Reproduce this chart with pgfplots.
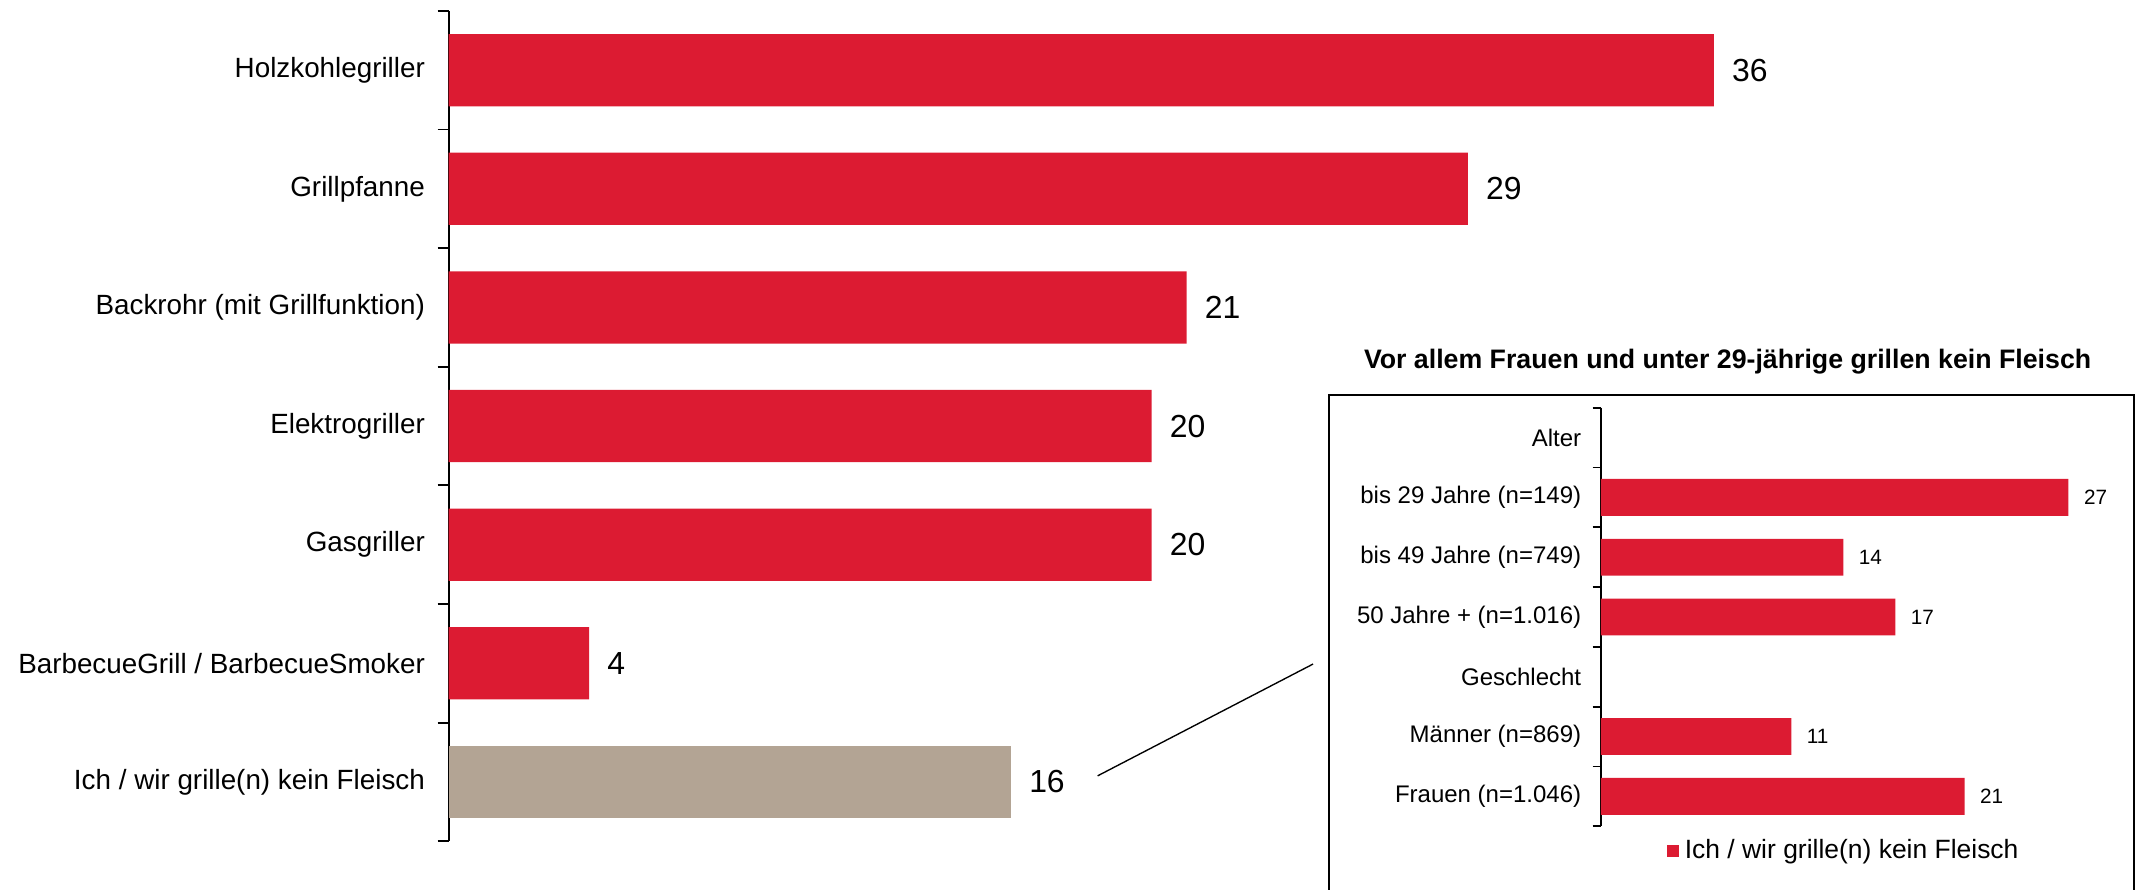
\documentclass[border=0pt]{standalone}
\usepackage{fontspec}
\setmainfont{Liberation Sans}
\usepackage{pgfplots}
\pgfplotsset{compat=1.18}
\usepackage{pgfplotstable}

\definecolor{grillred}{RGB}{220,27,50}
\definecolor{veggie}{RGB}{179,164,148}

% Geraete (Hauptgrafik)
\pgfplotstableread{
idx value
0 36
1 29
2 21
3 20
4 20
5 4
}\geraete
\pgfplotstableread{
idx value
6 16
}\keinfleisch
% Einschub: kein Fleisch nach Gruppen
\pgfplotstableread{
idx value
1 27
2 14
3 17
5 11
6 21
}\gruppen

\begin{document}
\begin{tikzpicture}[x=1pt,y=1pt]
\useasboundingbox (0,0) rectangle (784,326);

\begin{axis}[
    at={(164.5pt,17.5pt)}, anchor=south west,
    scale only axis, width=464pt, height=304.5pt,
    xbar, clip=false,
    xmin=0, xmax=36, ymin=-0.5, ymax=6.5, y dir=reverse,
    axis x line=none, axis y line*=left,
    axis line style={line width=0.7pt},
    ytick={0,...,6},
    yticklabels={Holzkohlegriller, Grillpfanne, Backrohr (mit Grillfunktion), Elektrogriller, Gasgriller, BarbecueGrill / BarbecueSmoker, Ich / wir grille(n) kein Fleisch},
    major tick length=0pt,
    minor ytick={-0.5,0.5,...,6.5},
    minor tick length=4pt, tick align=outside,
    minor tick style={line width=0.7pt, black},
    yticklabel style={font=\fontsize{10.2}{12}\selectfont, inner sep=0pt, xshift=-8.5pt},
    /pgf/number format/assume math mode=true,
    nodes near coords,
    nodes near coords style={font=\fontsize{11.7}{14}\selectfont, anchor=west, inner sep=0pt, xshift=6.5pt},
]
\addplot[fill=grillred, draw=none, bar width=26.5pt, bar shift=0pt] table[x=value,y=idx]{\geraete};
\addplot[fill=veggie, draw=none, bar width=26.5pt, bar shift=0pt] table[x=value,y=idx]{\keinfleisch};
\end{axis}

\draw[line width=0.5pt] (402.5,41.5) -- (481.5,82.5);
\draw[line width=0.75pt] (487.5,-10) rectangle (782.5,181);
\node[font=\bfseries\fontsize{9.8}{12}\selectfont] at (633.5,193.5) {Vor allem Frauen und unter 29-jährige grillen kein Fleisch};

\begin{axis}[
    at={(587pt,23pt)}, anchor=south west,
    scale only axis, width=171.5pt, height=153.5pt,
    xbar, clip=false,
    xmin=0, xmax=27, ymin=-0.5, ymax=6.5, y dir=reverse,
    axis x line=none, axis y line*=left,
    axis line style={line width=0.7pt},
    ytick={0,...,6},
    yticklabels={Alter, bis 29 Jahre (n=149), bis 49 Jahre (n=749), 50 Jahre + (n=1.016), Geschlecht, Männer (n=869), Frauen (n=1.046)},
    major tick length=0pt,
    minor ytick={-0.5,0.5,...,6.5},
    minor tick length=3pt, tick align=outside,
    minor tick style={line width=0.7pt, black},
    yticklabel style={font=\fontsize{8.8}{10}\selectfont, inner sep=0pt, xshift=-7pt},
    /pgf/number format/assume math mode=true,
    nodes near coords,
    nodes near coords style={font=\fontsize{7.6}{9}\selectfont, anchor=west, inner sep=0pt, xshift=5.5pt},
    legend style={at={(0.14,-0.0586)}, anchor=west, draw=none, fill=none, inner sep=0pt,
        font=\fontsize{9.7}{11}\selectfont},
    legend image code/.code={\fill[#1] (0pt,-2.3pt) rectangle (4.6pt,2.3pt);},
]
\addplot[fill=grillred, draw=none, bar width=13.5pt, bar shift=0pt] table[x=value,y=idx]{\gruppen};
\addlegendentry{Ich / wir grille(n) kein Fleisch}
\end{axis}
\end{tikzpicture}
\end{document}
